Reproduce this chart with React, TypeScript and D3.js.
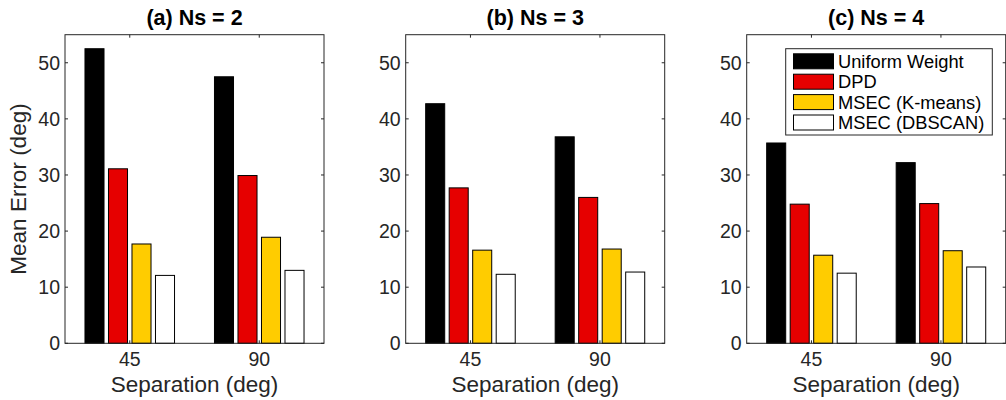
import { useRef, useEffect } from "react";
import * as d3 from "d3";

// data
const separations = ["45", "90"];
const methods = ["Uniform Weight", "DPD", "MSEC (K-means)", "MSEC (DBSCAN)"];
const colors = ["#000000", "#e60000", "#ffcc00", "#ffffff"];
const titles = ["(a) Ns = 2", "(b) Ns = 3", "(c) Ns = 4"];
// values per panel: [method][separation]
const ns2 = [
  [52.5, 47.5],
  [31.1, 29.9],
  [17.7, 18.9],
  [12.1, 13.0],
];
const ns3 = [
  [42.7, 36.8],
  [27.7, 26.0],
  [16.6, 16.8],
  [12.3, 12.7],
];
const ns4 = [
  [35.7, 32.2],
  [24.8, 24.9],
  [15.7, 16.5],
  [12.5, 13.6],
];
const yTicks = [0, 10, 20, 30, 40, 50];

const W = 1006;
const H = 400;
const FONT = "'Liberation Sans', Arial, Helvetica, sans-serif";
const INK = "#262626";

const App = () => {
  const svgRef = useRef(null);

  useEffect(() => {
    const svg = d3.select(svgRef.current);
    svg.selectAll("*").remove();

    const panels = [ns2, ns3, ns4];
    const lefts = [65, 405.7, 746.7];
    const pw = 259;
    const top = 34.7;
    const bottom = 343.3;

    const y = d3.scaleLinear().domain([0, 55]).range([bottom, top]);

    panels.forEach((vals, p) => {
      const left = lefts[p];
      // group positions 1,2 on a [0.5, 2.5] axis like matlab
      const x = d3.scaleLinear().domain([0.5, 2.5]).range([left, left + pw]);
      const unit = x(1) - x(0);
      const barW = 0.147 * unit;
      const step = 0.1815 * unit;

      const g = svg.append("g");

      // bars
      methods.forEach((m, mi) => {
        g.selectAll(null)
          .data(vals[mi])
          .join("rect")
          .attr("x", (d, i) => x(i + 1) + (mi - 1.5) * step - barW / 2)
          .attr("y", (d) => y(d))
          .attr("width", barW)
          .attr("height", (d) => y(0) - y(d))
          .attr("fill", colors[mi])
          .attr("stroke", "#000")
          .attr("stroke-width", 1);
      });

      // box
      g.append("rect")
        .attr("x", left)
        .attr("y", top)
        .attr("width", pw)
        .attr("height", bottom - top)
        .attr("fill", "none")
        .attr("stroke", INK)
        .attr("stroke-width", 1);

      // y ticks (inward on both sides)
      const tl = 3;
      yTicks.forEach((t) => {
        g.append("line")
          .attr("x1", left).attr("x2", left + tl)
          .attr("y1", y(t)).attr("y2", y(t))
          .attr("stroke", INK);
        g.append("line")
          .attr("x1", left + pw).attr("x2", left + pw - tl)
          .attr("y1", y(t)).attr("y2", y(t))
          .attr("stroke", INK);
        g.append("text")
          .attr("x", left - 5)
          .attr("y", y(t))
          .attr("dy", "0.36em")
          .attr("text-anchor", "end")
          .attr("font-family", FONT)
          .attr("font-size", 19.5)
          .attr("fill", INK)
          .text(t);
      });

      // x ticks
      separations.forEach((s, i) => {
        const xx = x(i + 1);
        g.append("line")
          .attr("x1", xx).attr("x2", xx)
          .attr("y1", bottom).attr("y2", bottom - tl)
          .attr("stroke", INK);
        g.append("line")
          .attr("x1", xx).attr("x2", xx)
          .attr("y1", top).attr("y2", top + tl)
          .attr("stroke", INK);
        g.append("text")
          .attr("x", xx)
          .attr("y", 366)
          .attr("text-anchor", "middle")
          .attr("font-family", FONT)
          .attr("font-size", 19.5)
          .attr("fill", INK)
          .text(s);
      });

      // x label
      g.append("text")
        .attr("x", left + pw / 2)
        .attr("y", 392)
        .attr("text-anchor", "middle")
        .attr("font-family", FONT)
        .attr("font-size", 22.5)
        .attr("fill", INK)
        .text("Separation (deg)");

      // title
      g.append("text")
        .attr("x", left + pw / 2)
        .attr("y", 25)
        .attr("text-anchor", "middle")
        .attr("font-family", FONT)
        .attr("font-size", 21.5)
        .attr("font-weight", "bold")
        .attr("fill", "#000")
        .text(titles[p]);

      if (p === 0) {
        g.append("text")
          .attr("transform", `translate(26, ${(top + bottom) / 2}) rotate(-90)`)
          .attr("text-anchor", "middle")
          .attr("font-family", FONT)
          .attr("font-size", 22.5)
          .attr("fill", INK)
          .text("Mean Error (deg)");
      }

      // legend in last panel
      if (p === 2) {
        const lg = g.append("g");
        lg.append("rect")
          .attr("x", 785.7)
          .attr("y", 48.7)
          .attr("width", 206.6)
          .attr("height", 86.3)
          .attr("fill", "#fff")
          .attr("stroke", INK);
        methods.forEach((m, mi) => {
          const cy = 61.3 + mi * 20.4;
          lg.append("rect")
            .attr("x", 793.5)
            .attr("y", cy - 7.5)
            .attr("width", 40)
            .attr("height", 15)
            .attr("fill", colors[mi])
            .attr("stroke", "#000");
          lg.append("text")
            .attr("x", 838)
            .attr("y", cy)
            .attr("dy", "0.36em")
            .attr("font-family", FONT)
            .attr("font-size", 18.3)
            .attr("fill", "#000")
            .text(m);
        });
      }
    });
  }, []);

  return (
    <svg
      ref={svgRef}
      width={W}
      height={H}
      style={{ position: "absolute", left: 0, top: 0, background: "#fff" }}
    ></svg>
  );
};

export default App;
